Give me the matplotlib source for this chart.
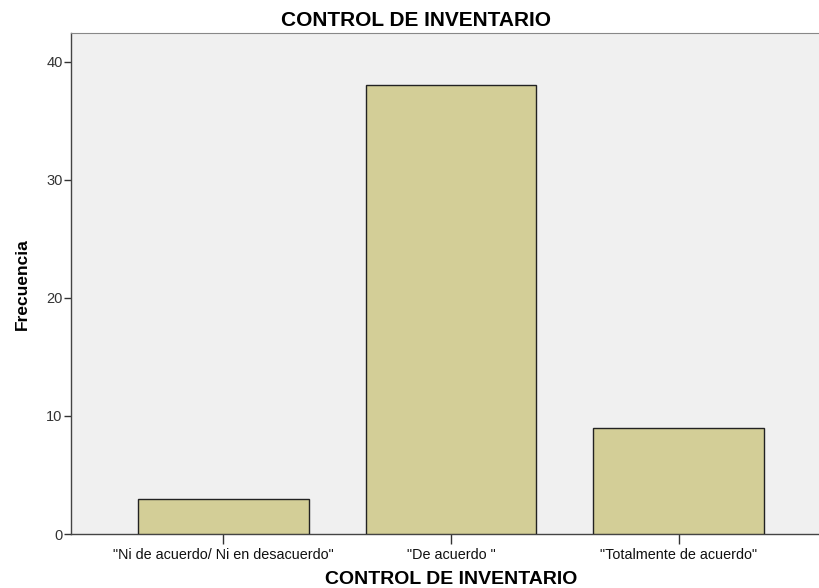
import matplotlib
matplotlib.use("Agg")
import matplotlib.pyplot as plt

categories = ['"Ni de acuerdo/ Ni en desacuerdo"', '"De acuerdo "', '"Totalmente de acuerdo"']
values = [3, 38, 9]
yticks = [0, 10, 20, 30, 40]

plt.rcParams['font.family'] = ['Liberation Sans', 'DejaVu Sans']

W, H = 819, 588
fig = plt.figure(figsize=(W/100, H/100), dpi=100)
left, right, top, bottom = 71, 831, 33, 534
ppu = 11.81
ax = fig.add_axes([left/W, 1-bottom/H, (right-left)/W, (bottom-top)/H])
ax.set_facecolor('#F0F0F0')

x = list(range(len(categories)))
ax.bar(x, values, width=0.75, color='#D3CE97', edgecolor='#222222', linewidth=1.0, zorder=3)
ax.set_xlim(-0.667, 2.667)
ax.set_ylim(0, (bottom-top)/ppu)
ax.set_xticks(x)
ax.set_xticklabels(categories, fontsize=10.4, color='#111111')
ax.set_yticks(yticks)
ax.set_yticklabels([str(v) for v in yticks], fontsize=10.5, color='#333333')
ax.tick_params(axis='x', length=7, width=1, color='#333333', pad=3)
ax.tick_params(axis='y', length=5, width=1, color='#333333', pad=1)
for s in ['left', 'bottom']:
    ax.spines[s].set_color('#444444')
    ax.spines[s].set_linewidth(1.0)
ax.spines['top'].set_color('#888888')
ax.spines['right'].set_visible(False)

fig.text(416/W, 1-20/H, 'CONTROL DE INVENTARIO', ha='center', va='center',
         fontsize=15, fontweight='bold')
fig.text(451/W, 1-579/H, 'CONTROL DE INVENTARIO', ha='center', va='center',
         fontsize=14, fontweight='bold')
fig.text(22/W, 1-284/H, 'Frecuencia', ha='center', va='center', rotation=90,
         fontsize=12.5, fontweight='bold')

fig.savefig('out.png', dpi=100)
